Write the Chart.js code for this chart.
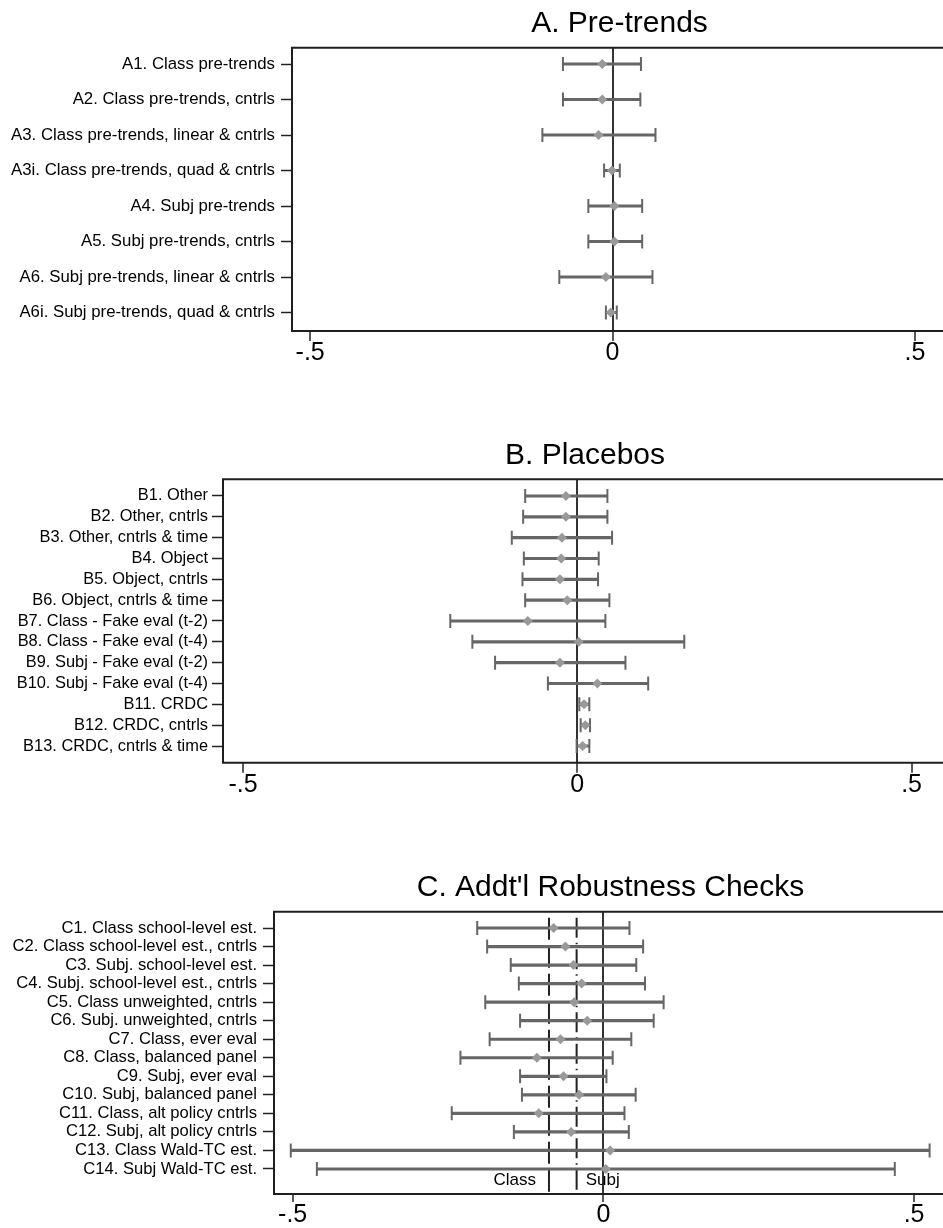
<!DOCTYPE html>
<html>
<head>
<meta charset="utf-8">
<script src="https://cdn.jsdelivr.net/npm/chart.js@4.4.1/dist/chart.umd.min.js"></script>
<style>
  html, body { margin: 0; padding: 0; background: #fff; overflow: hidden; }
  #wrap { position: relative; width: 943px; height: 1228px; overflow: hidden; }
  canvas { position: absolute; left: 0; }
</style>
</head>
<body>
<div id="wrap">
  <canvas id="chartA" width="960" height="380" style="top:0px"></canvas>
  <canvas id="chartB" width="960" height="380" style="top:430px"></canvas>
  <canvas id="chartC" width="960" height="368" style="top:860px"></canvas>
</div>
<script>
// Panel A: pre-trends
const aLabels = ['A1. Class pre-trends', 'A2. Class pre-trends, cntrls', 'A3. Class pre-trends, linear & cntrls',
  'A3i. Class pre-trends, quad & cntrls', 'A4. Subj pre-trends', 'A5. Subj pre-trends, cntrls',
  'A6. Subj pre-trends, linear & cntrls', 'A6i. Subj pre-trends, quad & cntrls'];
const aEst = [-0.017, -0.017, -0.023, -0.001, 0.003, 0.003, -0.011, -0.003];
const aLo  = [-0.082, -0.082, -0.116, -0.014, -0.040, -0.040, -0.088, -0.011];
const aHi  = [0.047, 0.046, 0.071, 0.012, 0.049, 0.049, 0.066, 0.007];

// Panel B: placebos
const bLabels = ['B1. Other', 'B2. Other, cntrls', 'B3. Other, cntrls & time', 'B4. Object', 'B5. Object, cntrls',
  'B6. Object, cntrls & time', 'B7. Class - Fake eval (t-2)', 'B8. Class - Fake eval (t-4)',
  'B9. Subj - Fake eval (t-2)', 'B10. Subj - Fake eval (t-4)', 'B11. CRDC', 'B12. CRDC, cntrls', 'B13. CRDC, cntrls & time'];
const bEst = [-0.017, -0.017, -0.023, -0.024, -0.026, -0.015, -0.074, 0.002, -0.026, 0.030, 0.010, 0.012, 0.008];
const bLo  = [-0.078, -0.081, -0.098, -0.080, -0.082, -0.078, -0.190, -0.157, -0.123, -0.044, 0.003, 0.005, -0.001];
const bHi  = [0.045, 0.045, 0.052, 0.032, 0.031, 0.048, 0.042, 0.160, 0.072, 0.106, 0.018, 0.019, 0.018];

// Panel C: robustness checks
const cLabels = ['C1. Class school-level est.', 'C2. Class school-level est., cntrls', 'C3. Subj. school-level est.',
  'C4. Subj. school-level est., cntrls', 'C5. Class unweighted, cntrls', 'C6. Subj. unweighted, cntrls',
  'C7. Class, ever eval', 'C8. Class, balanced panel', 'C9. Subj, ever eval', 'C10. Subj, balanced panel',
  'C11. Class, alt policy cntrls', 'C12. Subj, alt policy cntrls', 'C13. Class Wald-TC est.', 'C14. Subj Wald-TC est.'];
const cEst = [-0.080, -0.061, -0.048, -0.035, -0.047, -0.026, -0.069, -0.107, -0.064, -0.039, -0.104, -0.052, 0.011, 0.004];
const cLo  = [-0.203, -0.187, -0.149, -0.136, -0.190, -0.134, -0.183, -0.230, -0.134, -0.131, -0.244, -0.144, -0.503, -0.461];
const cHi  = [0.042, 0.064, 0.053, 0.067, 0.097, 0.081, 0.045, 0.015, 0.005, 0.052, 0.034, 0.041, 0.525, 0.469];

// reference lines in panel C
const refValues = [-0.0875, -0.043];
const refLabels = ['Class', 'Subj'];

// x axis
const xTicks = [-0.5, 0, 0.5];
const xTickLabels = ['-.5', '0', '.5'];

const FONT = '"Liberation Sans", Arial, Helvetica, sans-serif';

// box round the plot (right side falls off the page)
const framePlugin = {
  id: 'frame',
  afterDraw(chart) {
    const { ctx, chartArea: a } = chart;
    ctx.save();
    ctx.strokeStyle = '#1e1e1e';
    ctx.lineWidth = 2;
    ctx.beginPath();
    ctx.moveTo(a.right + 10, a.top);
    ctx.lineTo(a.left, a.top);
    ctx.lineTo(a.left, a.bottom);
    ctx.lineTo(a.right + 10, a.bottom);
    ctx.stroke();
    ctx.restore();
  }
};

// dashed Class / Subj lines
const refPlugin = {
  id: 'refLines',
  beforeDatasetsDraw(chart) {
    const { ctx, chartArea: a, scales: { x } } = chart;
    const dashes = [[22, 6], [20, 5, 1.5, 5]];
    refValues.forEach((v, i) => {
      const px = x.getPixelForValue(v);
      ctx.save();
      ctx.strokeStyle = '#222';
      ctx.lineWidth = 2;
      ctx.setLineDash(dashes[i]);
      ctx.beginPath();
      ctx.moveTo(px, a.top + 6);
      ctx.lineTo(px, a.bottom);
      ctx.stroke();
      ctx.setLineDash([]);
      ctx.fillStyle = '#000';
      ctx.font = '17px ' + FONT;
      ctx.textBaseline = 'alphabetic';
      ctx.textAlign = i === 0 ? 'right' : 'left';
      ctx.fillText(refLabels[i], i === 0 ? px - 13 : px + 9, a.bottom - 9);
      ctx.restore();
    });
  }
};

function makePanel(id, title, labels, est, lo, hi, g, extra) {
  const pos = labels.map((_, i) => i + 1);
  const caps = lo.map((v, i) => ({ x: v, y: pos[i] })).concat(hi.map((v, i) => ({ x: v, y: pos[i] })));
  new Chart(document.getElementById(id), {
    type: 'bar',
    data: {
      datasets: [
        {
          type: 'scatter',
          data: est.map((v, i) => ({ x: v, y: pos[i] })),
          pointStyle: 'rectRot',
          pointRadius: 5,
          pointBackgroundColor: '#999',
          pointBorderWidth: 0,
          order: 0
        },
        {
          type: 'scatter',
          data: caps,
          pointStyle: 'line',
          pointRotation: 90,
          pointRadius: 7,
          pointBorderColor: '#666',
          pointBorderWidth: 2,
          order: 1
        },
        {
          type: 'bar',
          data: lo.map((v, i) => ({ x: [v, hi[i]], y: pos[i] })),
          backgroundColor: '#666',
          barThickness: 2.5,
          order: 2
        }
      ]
    },
    options: {
      responsive: false,
      animation: false,
      events: [],
      indexAxis: 'y',
      layout: { padding: { left: 0, right: 13, top: 0, bottom: 0 } },
      plugins: {
        legend: { display: false },
        tooltip: { enabled: false },
        title: {
          display: true,
          text: title,
          fullSize: false,
          color: '#000',
          font: { family: FONT, size: 30, weight: 'normal', lineHeight: 1.2 },
          padding: { top: g.plotTop - 42, bottom: 6 }
        }
      },
      scales: {
        x: {
          type: 'linear',
          min: -0.53,
          max: 0.553,
          offset: false,
          afterBuildTicks: s => { s.ticks = xTicks.map(v => ({ value: v })); },
          afterFit: s => { s.height = g.height - g.plotBottom; },
          ticks: {
            callback: v => xTickLabels[xTicks.indexOf(v)],
            font: { family: FONT, size: 25, lineHeight: 1 },
            color: '#000',
            padding: g.xPad,
            maxRotation: 0,
            autoSkip: false
          },
          grid: {
            color: c => (c.tick && c.tick.value === 0 ? '#333' : 'rgba(0,0,0,0)'),
            lineWidth: 2,
            tickColor: '#222',
            tickWidth: 1.5,
            tickLength: g.xTick
          },
          border: { display: false }
        },
        y: {
          type: 'linear',
          reverse: true,
          min: g.yMin,
          max: g.yMax,
          offset: false,
          afterBuildTicks: s => { s.ticks = pos.map(v => ({ value: v })); },
          afterFit: s => { s.width = g.plotLeft; },
          ticks: {
            callback: v => labels[v - 1],
            autoSkip: false,
            font: { family: FONT, size: g.labelSize },
            color: '#000',
            padding: g.yPad
          },
          grid: {
            drawOnChartArea: false,
            offset: false,
            tickLength: 11,
            tickColor: '#222',
            tickWidth: 1.5
          },
          border: { display: false }
        }
      }
    },
    plugins: [framePlugin].concat(extra || [])
  });
}

makePanel('chartA', 'A. Pre-trends', aLabels, aEst, aLo, aHi,
  { height: 380, plotTop: 47.7, plotBottom: 331, plotLeft: 292, yMin: 0.54, yMax: 8.52, labelSize: 16.8, yPad: 6, xTick: 10, xPad: 0 });
makePanel('chartB', 'B. Placebos', bLabels, bEst, bLo, bHi,
  { height: 380, plotTop: 49.3, plotBottom: 332.7, plotLeft: 223, yMin: 0.2, yMax: 13.8, labelSize: 16.4, yPad: 4, xTick: 10, xPad: 0 });
makePanel('chartC', "C. Addt'l Robustness Checks", cLabels, cEst, cLo, cHi,
  { height: 368, plotTop: 51.7, plotBottom: 334, plotLeft: 274, yMin: 0.12, yMax: 15.35, labelSize: 16.6, yPad: 6, xTick: 8, xPad: 1 },
  [refPlugin]);
</script>
</body>
</html>
